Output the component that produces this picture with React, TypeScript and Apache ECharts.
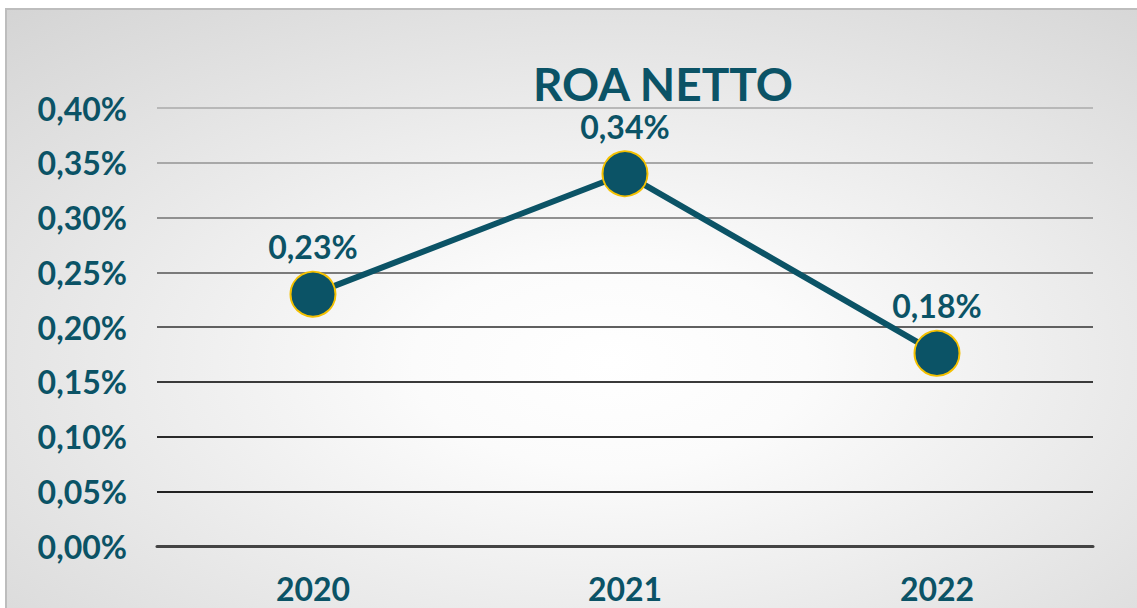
import React, { useEffect, useRef } from "react";
import * as echarts from "echarts";

const categories = ["2020", "2021", "2022"];
const roaValues = [0.23, 0.34, 0.176];
const yMin = 0;
const yMax = 0.4;
const yInterval = 0.05;
const titleText = "ROA NETTO";

const TEAL = "#0b5366";
const FONT = "Lato, 'DejaVu Sans', sans-serif";

const fmt = (v: number) => v.toFixed(2).replace(".", ",") + "%";

export default function App() {
  const ref = useRef<HTMLDivElement>(null);
  useEffect(() => {
    if (!ref.current) return;
    const chart = echarts.init(ref.current, null, { renderer: "svg" });
    chart.setOption({
      animation: false,
      backgroundColor: "#ffffff",
      graphic: [
        {
          type: "rect",
          z: -10,
          silent: true,
          shape: { x: 6, y: 9, width: 1140, height: 610 },
          style: {
            fill: {
              type: "radial",
              x: 0.53,
              y: 0.58,
              r: 1.15,
              colorStops: [
                { offset: 0, color: "#ffffff" },
                { offset: 0.15, color: "#fbfbfb" },
                { offset: 1, color: "#bdbdbd" },
              ],
            },
            stroke: "#bdbdbd",
            lineWidth: 2,
          },
        },
        {
          type: "text",
          x: 663,
          y: 83,
          style: {
            text: titleText,
            fill: TEAL,
            font: `bold 46px ${FONT}`,
            lineHeight: 36,
            textAlign: "center",
            textVerticalAlign: "middle",
          },
        },
      ],
      grid: { left: 157, right: 44, top: 108, bottom: 62, containLabel: false },
      xAxis: {
        type: "category",
        data: categories,
        boundaryGap: true,
        axisLine: { show: true, lineStyle: { color: "#444444", width: 3 } },
        axisTick: { show: false },
        axisLabel: {
          margin: 26,
          color: TEAL,
          fontFamily: FONT,
          fontWeight: "bold",
          fontSize: 32,
        },
      },
      yAxis: {
        type: "value",
        min: yMin,
        max: yMax,
        interval: yInterval,
        axisLine: { show: false },
        axisTick: { show: false },
        axisLabel: {
          margin: 30,
          color: TEAL,
          fontFamily: FONT,
          fontWeight: "bold",
          fontSize: 32,
          formatter: (v: number) => fmt(v),
        },
        splitLine: {
          show: true,
          lineStyle: {
            width: 2,
            color: [
              "#444444",
              "#222222",
              "#2a2a2a",
              "#3a3a3a",
              "#606060",
              "#7a7a7a",
              "#909090",
              "#a8a8a8",
              "#b8b8b8",
            ],
          },
        },
      },
      series: [
        {
          type: "line",
          data: roaValues,
          symbol: "circle",
          symbolSize: 45,
          lineStyle: { color: TEAL, width: 6 },
          itemStyle: { color: TEAL, borderColor: "#f4c000", borderWidth: 2 },
          label: {
            show: true,
            position: "top",
            distance: 10,
            color: TEAL,
            fontFamily: FONT,
            fontWeight: "bold",
            fontSize: 32,
            lineHeight: 28,
            formatter: (p: any) => fmt(p.value),
          },
        },
      ],
    });
    return () => chart.dispose();
  }, []);
  return (
    <div
      ref={ref}
      style={{ position: "fixed", left: 0, top: 0, width: 1137, height: 608 }}
    />
  );
}
